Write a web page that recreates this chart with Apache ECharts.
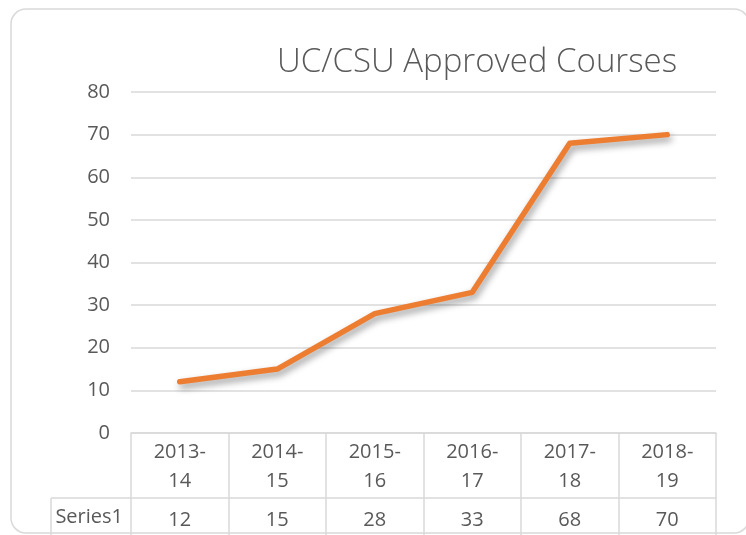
<!DOCTYPE html>
<html>
<head>
<meta charset="utf-8">
<script src="https://cdn.jsdelivr.net/npm/echarts@6/dist/echarts.min.js"></script>
<style>html,body{margin:0;padding:0;background:#fff}#c{width:746px;height:535px}</style>
</head>
<body>
<div id="c"></div>
<script>
const titleText = 'UC/CSU Approved Courses';
const categories = ['2013-\n14', '2014-\n15', '2015-\n16', '2016-\n17', '2017-\n18', '2018-\n19'];
const seriesName = 'Series1';
const values = [12, 15, 28, 33, 68, 70];
const yTicks = { min: 0, max: 80, interval: 10 };

const FONT = "'Open Sans', 'Liberation Sans', sans-serif";
const TXT = '#595959';
const GRID = '#d9d9d9';

const chart = echarts.init(document.getElementById('c'), null, { renderer: 'canvas' });
chart.setOption({
  backgroundColor: '#ffffff',
  animation: false,
  textStyle: { fontFamily: FONT },
  title: {
    text: titleText,
    left: 272,
    top: 41,
    textStyle: { fontFamily: FONT, fontSize: 33, fontWeight: 300, color: TXT }
  },
  grid: { left: 131, right: 30, top: 92, bottom: 102, containLabel: false },
  xAxis: [
    {
      type: 'category',
      data: categories,
      boundaryGap: true,
      position: 'bottom',
      axisLine: { show: true, lineStyle: { color: GRID, width: 1.5 } },
      axisTick: { show: true, interval: 0, length: 104, lineStyle: { color: GRID, width: 1.5 } },
      axisLabel: { interval: 0, margin: 5, fontSize: 20, lineHeight: 29, color: TXT, fontFamily: FONT },
      splitLine: { show: false }
    },
    {
      type: 'category',
      data: categories,
      boundaryGap: true,
      position: 'bottom',
      offset: 65,
      axisLine: { show: true, lineStyle: { color: GRID, width: 1.5 } },
      axisTick: { show: false },
      axisLabel: {
        interval: 0, margin: 9, fontSize: 20, lineHeight: 26, color: TXT, fontFamily: FONT,
        formatter: function (v, i) { return String(values[i]); }
      },
      name: seriesName,
      nameLocation: 'start',
      nameGap: 8,
      nameTextStyle: { fontSize: 20, color: TXT, fontFamily: FONT, verticalAlign: 'top', padding: [9, 0, 0, 0] }
    }
  ],
  yAxis: {
    type: 'value',
    min: yTicks.min,
    max: yTicks.max,
    interval: yTicks.interval,
    axisLine: { show: false },
    axisTick: { show: false },
    axisLabel: { fontSize: 20, color: TXT, margin: 21, fontFamily: FONT },
    splitLine: { show: true, lineStyle: { color: GRID, width: 1.5 } }
  },
  series: [{
    name: seriesName,
    type: 'line',
    data: values,
    xAxisIndex: 0,
    symbol: 'none',
    smooth: false,
    lineStyle: {
      color: '#ED7D31', width: 5.5, cap: 'round', join: 'round',
      shadowColor: 'rgba(0,0,0,0.4)', shadowBlur: 7, shadowOffsetX: 2, shadowOffsetY: 4
    },
    z: 5
  }],
  graphic: [
    { type: 'rect', shape: { x: 11, y: 9, width: 738, height: 524, r: 15 },
      style: { fill: 'none', stroke: GRID, lineWidth: 1.5 }, silent: true, z: -1 },
    { type: 'line', shape: { x1: 51, y1: 498, x2: 131, y2: 498 },
      style: { stroke: GRID, lineWidth: 1.5 }, silent: true },
    { type: 'line', shape: { x1: 51, y1: 498, x2: 51, y2: 535 },
      style: { stroke: GRID, lineWidth: 1.5 }, silent: true }
  ]
});
</script>
</body>
</html>
